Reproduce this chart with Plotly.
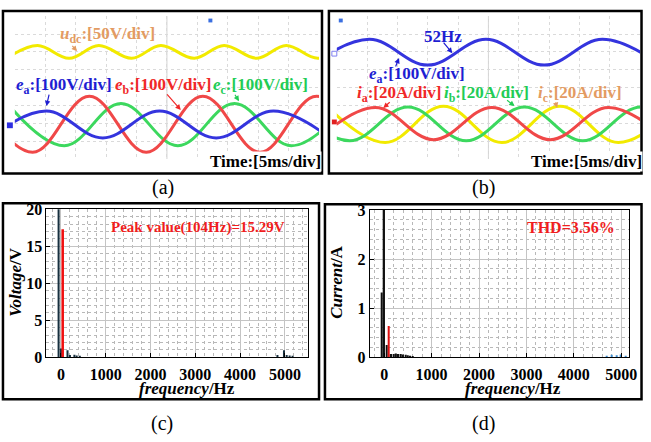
import plotly.graph_objects as go

W, H = 651, 442
SERIF = "Liberation Serif"

# ---------------- panel (a): time in ms (5 ms/div), amplitude in divisions ----------------
a_udc_t = [-1.3, 3.73, 8.93, 13.8, 19.2, 24.0, 29.5, 34.4, 39.8, 44.6, 49.8, 55.0]
a_udc_v = [1.64, 2.36, 1.64, 2.36, 1.64, 2.36, 1.64, 2.36, 1.64, 2.36, 1.64, 2.36]
a_ea_t = [-4.2, 5.15, 14.45, 23.8, 33.1, 42.5, 51.8]
a_ea_v = [-2.82, -1.32, -2.82, -1.32, -2.82, -1.32, -2.82]
a_eb_t = [-6.4, 2.92, 12.26, 21.6, 30.9, 40.3, 49.6, 59.0]
a_eb_v = [-0.48, -3.62, -0.48, -3.62, -0.48, -3.62, -0.48, -3.62]
a_ec_t = [-1.22, 8.12, 17.45, 26.8, 36.1, 45.45, 54.8]
a_ec_v = [-0.89, -3.26, -0.89, -3.26, -0.89, -3.26, -0.89]

# ---------------- panel (b) ----------------
b_ea_t = [-4.23, 5.37, 14.98, 24.6, 34.2, 43.8, 53.4]
b_ea_v = [1.26, 2.70, 1.26, 2.70, 1.26, 2.70, 1.26]
b_ia_t = [-3.26, 6.35, 15.96, 25.57, 35.18, 44.79, 54.4]
b_ia_v = [-2.92, -1.11, -2.92, -1.11, -2.92, -1.11, -2.92]
b_ib_t = [-7.49, 2.12, 11.73, 21.34, 30.94, 40.55, 50.16, 59.8]
b_ib_v = [-1.09, -2.98, -1.09, -2.98, -1.09, -2.98, -1.09, -2.98]
b_ic_t = [-1.63, 7.98, 17.59, 27.2, 36.81, 46.42, 56.03]
b_ic_v = [-1.04, -3.08, -1.04, -3.08, -1.04, -3.08, -1.04]

# ---------------- panel (c): voltage spectrum ----------------
c_dark_f = [-53, 0, 146, 200, 300, 350, 420, 4834, 4980, 5040, 5106, 5172]
c_dark_v = [22, 1.2, 0.95, 0.3, 0.35, 0.25, 0.2, 0.3, 0.95, 0.3, 0.25, 0.2]
c_red_f = [48]
c_red_v = [17.3]

# ---------------- panel (d): current spectrum ----------------
d_dark_f = [-52, 0, 56, 150, 200, 250, 300, 350, 400, 450, 500, 550, 600]
d_dark_v = [1.32, 3.5, 0.25, 0.07, 0.07, 0.08, 0.07, 0.07, 0.06, 0.05, 0.04, 0.03, 0.02]
d_red_f = [98]
d_red_v = [0.635]
d_blue_f = [4700, 4800, 4900, 5000, 5100]
d_blue_v = [0.03, 0.05, 0.04, 0.06, 0.03]

C_YEL = "#F2EA00"
C_BLUE = "#3434DE"
C_RED = "#F04848"
C_GRN = "#3CD85E"
T_BLUE = "#1E1ED2"
T_RED = "#F02828"
T_GRN = "#22CC55"
T_ORG = "#E39B62"


def px(x):
    return x / W


def py(y):
    return 1 - y / H


fig = go.Figure()


def wave(t, v, color, ax):
    fig.add_trace(go.Scatter(x=t, y=v, mode="lines",
                             line=dict(color=color, width=3, shape="spline", smoothing=1.1),
                             xaxis="x" + ax, yaxis="y" + ax, hoverinfo="skip"))


wave(a_udc_t, a_udc_v, C_YEL, "")
wave(a_ec_t, a_ec_v, C_GRN, "")
wave(a_eb_t, a_eb_v, C_RED, "")
wave(a_ea_t, a_ea_v, C_BLUE, "")

wave(b_ea_t, b_ea_v, C_BLUE, "2")
wave(b_ic_t, b_ic_v, C_YEL, "2")
wave(b_ib_t, b_ib_v, C_GRN, "2")
wave(b_ia_t, b_ia_v, C_RED, "2")

fig.add_trace(go.Bar(x=c_dark_f, y=c_dark_v, width=45, marker=dict(color="#17303F", line=dict(width=0)),
                     xaxis="x3", yaxis="y3"))
fig.add_trace(go.Bar(x=c_red_f, y=c_red_v, width=38, marker=dict(color="#F01010", line=dict(width=0)),
                     xaxis="x3", yaxis="y3"))
fig.add_trace(go.Bar(x=d_dark_f, y=d_dark_v, width=32, marker=dict(color="#101010", line=dict(width=0)),
                     xaxis="x4", yaxis="y4"))
fig.add_trace(go.Bar(x=d_red_f, y=d_red_v, width=32, marker=dict(color="#E01010", line=dict(width=0)),
                     xaxis="x4", yaxis="y4"))
fig.add_trace(go.Bar(x=d_blue_f, y=d_blue_v, width=25, marker=dict(color="#3D8FD1", line=dict(width=0)),
                     xaxis="x4", yaxis="y4"))

scope_grid = dict(showgrid=True, gridcolor="#DADADA", griddash="dot", gridwidth=1,
                  showticklabels=False, ticks="", zeroline=False, showline=False, fixedrange=True)

tickfont = dict(family=SERIF, size=16, color="black", weight="bold")
spec_axis = dict(showline=True, mirror=True, linecolor="black", linewidth=1, ticks="inside",
                 ticklen=4, tickcolor="black", showgrid=True, gridcolor="#C4C4C4", gridwidth=1,
                 zeroline=False, tickfont=tickfont)
minor_style = dict(showgrid=True, gridcolor="#B8B8B8", griddash="dot", ticks="")

fig.update_layout(
    width=W, height=H, autosize=False, margin=dict(l=0, r=0, t=0, b=0, pad=0),
    paper_bgcolor="white", plot_bgcolor="white", showlegend=False, barmode="overlay",
    xaxis=dict(domain=[px(15), px(323)], range=[0, 50], dtick=5, anchor="y", **scope_grid),
    yaxis=dict(domain=[py(157), py(8.5)], range=[-4, 4], dtick=1, anchor="x", **scope_grid),
    xaxis2=dict(domain=[px(341), px(648)], range=[0, 50], dtick=5, anchor="y2", **scope_grid),
    yaxis2=dict(domain=[py(157), py(8.5)], range=[-4, 4], dtick=1, anchor="x2", **scope_grid),
    xaxis3=dict(domain=[px(47), px(312)], range=[-325, 5520], dtick=1000, tick0=0, anchor="y3",
                ticklabelstandoff=2, minor=dict(dtick=200, **minor_style), **spec_axis),
    yaxis3=dict(domain=[py(363.3), py(209.3)], range=[0, 20], dtick=5, anchor="x3",
                minor=dict(dtick=1, **minor_style), **spec_axis),
    xaxis4=dict(domain=[px(374.3), px(637.3)], range=[-306, 5173], dtick=1000, tick0=0, anchor="y4",
                ticklabelstandoff=2, minor=dict(dtick=200, **minor_style), **spec_axis),
    yaxis4=dict(domain=[py(363.3), py(210)], range=[0, 3], dtick=1, anchor="x4",
                minor=dict(dtick=0.2, **minor_style), **spec_axis),
)

shapes = []
# centre lines of scope screens
for xr, yr in (("x", "y domain"), ("x2", "y2 domain")):
    shapes.append(dict(type="line", xref=xr, yref=yr, x0=25, x1=25, y0=0, y1=1,
                       line=dict(color="#D2D2D2", width=1), layer="below"))


def rect(x0, y0, x1, y1, fill, line=None):
    shapes.append(dict(type="rect", xref="paper", yref="paper", x0=px(x0), x1=px(x1),
                       y0=py(y1), y1=py(y0), fillcolor=fill,
                       line=dict(width=1 if line else 0, color=line or fill)))


# channel markers
rect(7, 119, 13, 125, "#2E2EE0")
rect(211, 11, 215, 15, "#3A6FE0")
rect(336, 45, 341, 50, "white", "#8080F0")
rect(336, 116, 341, 121, "#E02020")
rect(343, 11, 347, 15, "#3A6FE0")
# panel frames
for (x0, y0, x1, y1) in ((3, 3, 326, 172), (333, 3, 649.5, 172), (3, 203, 323, 407), (329, 204, 649.5, 407)):
    shapes.append(dict(type="rect", xref="paper", yref="paper", x0=px(x0), x1=px(x1),
                       y0=py(y1), y1=py(y0), line=dict(color="black", width=2.5)))
fig.update_layout(shapes=shapes)

ann = []


def text(x, y, s, color, size=16, **kw):
    d = dict(xref="paper", yref="paper", x=px(x), y=py(y), text=s, showarrow=False,
             font=dict(family=SERIF, size=size, color=color), xanchor="center", yanchor="middle")
    d.update(kw)
    ann.append(d)


def arrow(x0, y0, x1, y1, color):
    ann.append(dict(xref="paper", yref="paper", x=px(x1), y=py(y1), ax=x0 - x1, ay=y0 - y1,
                    text="", showarrow=True, arrowhead=2, arrowsize=0.9, arrowwidth=1.2,
                    arrowcolor=color))


text(109, 28.5, "<b><i>u</i><sub>dc</sub>:[50V/div]</b>", T_ORG, size=17)
text(64.5, 81.5, "<b><i>e</i><sub>a</sub>:[100V/div]</b>", T_BLUE, size=17)
text(165, 81.5, "<b><i>e</i><sub>b</sub>:[100V/div]</b>", T_RED, size=17)
text(264, 81.5, "<b><i>e</i><sub>c</sub>:[100V/div]</b>", T_GRN, size=17)
text(268.5, 160, "<b>Time:[5ms/div]</b>", "black", size=17, bgcolor="white", borderpad=0)
arrow(72, 38, 78, 45, T_ORG)
arrow(50, 89, 47, 102, T_BLUE)
arrow(168, 89, 183, 106, T_RED)
arrow(237, 89, 242, 97, T_GRN)

text(448.5, 30, "<b>52Hz</b>", T_BLUE, size=17)
text(422.5, 70, "<b><i>e</i><sub>a</sub>:[100V/div]</b>", T_BLUE, size=17)
text(404, 89, "<b><i>i</i><sub>a</sub>:[20A/div]</b>", T_RED, size=17)
text(492.5, 89, "<b><i>i</i><sub>b</sub>:[20A/div]</b>", T_GRN, size=17)
text(587, 89, "<b><i>i</i><sub>c</sub>:[20A/div]</b>", T_ORG, size=17)
text(593.5, 160, "<b>Time:[5ms/div]</b>", "black", size=17, bgcolor="white", borderpad=0)
arrow(448, 35, 458, 47, T_BLUE)
arrow(400, 62, 404, 52, T_BLUE)
arrow(396, 97, 388, 104, T_RED)
arrow(512, 95, 521, 102, T_GRN)
arrow(562, 97, 564, 104, T_ORG)

text(200, 228, "<b>Peak value(104Hz)=15.29V</b>", "#F01E1E", size=15)
text(578, 228, "<b>THD=3.56%</b>", "#F01E1E", size=16)
text(15, 285, "<b><i>Voltage</i>/V</b>", "black", size=17, textangle=-90)
text(340, 285, "<b><i>Current</i>/A</b>", "black", size=17, textangle=-90)
text(189, 396, "<b><i>frequency</i>/Hz</b>", "black", size=17)
text(519, 396, "<b><i>frequency</i>/Hz</b>", "black", size=17)

text(165, 187, "(a)", "black", size=20)
text(490, 187, "(b)", "black", size=20)
text(164, 432, "(c)", "black", size=20)
text(490, 432, "(d)", "black", size=20)

fig.update_layout(annotations=ann)

PIN = ("document.documentElement.style.margin='0px';document.documentElement.style.overflow='hidden';"
       "document.body.style.margin='0px';document.body.style.overflow='hidden';"
       "var gd=document.getElementById('{plot_id}');gd.style.position='fixed';"
       "gd.style.left='0px';gd.style.top='0px';")
fig.write_html("out.html", config={"displayModeBar": False, "responsive": False}, post_script=PIN)
